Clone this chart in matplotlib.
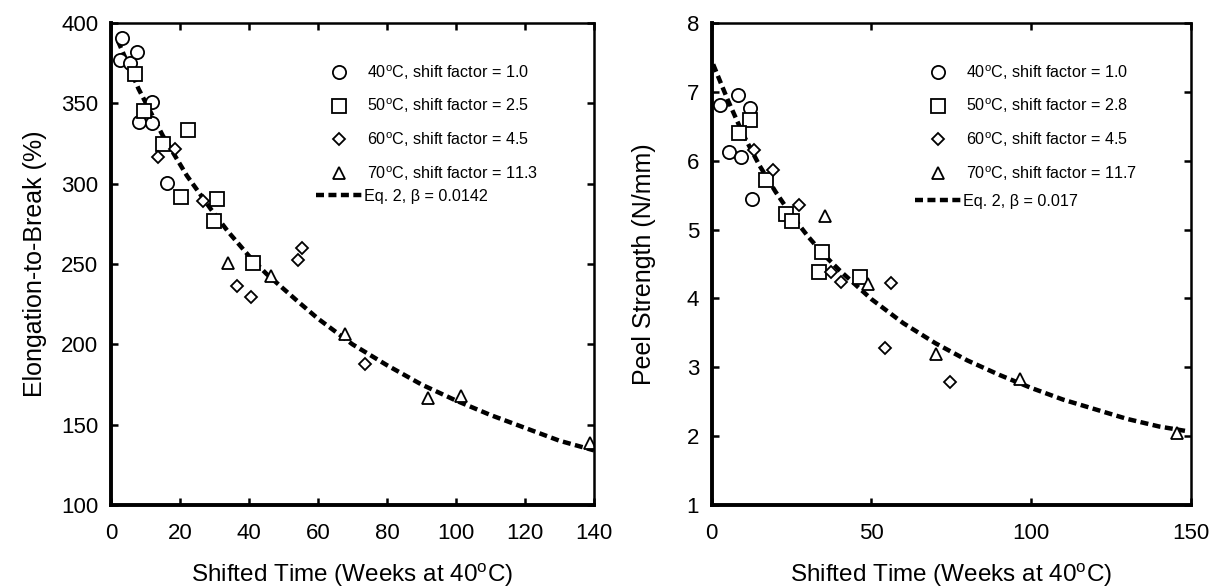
import matplotlib
matplotlib.use("Agg")
import matplotlib.pyplot as plt

plt.rcParams['font.family'] = ['Liberation Sans', 'DejaVu Sans']
plt.rcParams['mathtext.fontset'] = 'custom'
plt.rcParams['mathtext.rm'] = 'Liberation Sans'

# ---------------- Left panel: Elongation-to-Break ----------------
L_40_x = [3.1, 2.6, 5.5, 7.6, 11.8, 8.2, 11.8, 16.1]
L_40_y = [390.5, 377, 375, 382, 351, 338.6, 338, 300.6]
L_50_x = [7.0, 9.7, 22.4, 15.0, 20.3, 30.6, 29.9, 41.1]
L_50_y = [368, 345.4, 333.4, 324.7, 292, 290.3, 277, 250.5]
L_60_x = [13.5, 18.6, 26.8, 55.3, 54.1, 36.6, 40.7, 73.6]
L_60_y = [316.4, 321.6, 289.4, 259.8, 252.5, 236.4, 229.5, 188]
L_70_x = [33.8, 46.3, 67.8, 92.0, 101.4, 138.8]
L_70_y = [250.5, 242.6, 206.5, 166.8, 168, 138.8]
L_fit_x = [2, 8, 15, 22, 29, 34, 40, 45, 54, 60, 70, 80, 90, 100, 110, 120, 130, 140]
L_fit_y = [389, 359, 330, 305, 284, 270, 255, 244, 227, 216, 200, 187, 175, 165, 156, 148, 140, 134]
L_labels = ["40$^\\mathregular{o}$C, shift factor = 1.0",
            "50$^\\mathregular{o}$C, shift factor = 2.5",
            "60$^\\mathregular{o}$C, shift factor = 4.5",
            "70$^\\mathregular{o}$C, shift factor = 11.3",
            "Eq. 2, \u03b2 = 0.0142"]

# ---------------- Right panel: Peel Strength ----------------
R_40_x = [2.5, 8.2, 12.1, 5.6, 9.2, 12.7]
R_40_y = [6.81, 6.95, 6.76, 6.13, 6.06, 5.45]
R_50_x = [11.9, 8.5, 16.9, 23.4, 25.2, 34.7, 33.6, 46.5]
R_50_y = [6.59, 6.40, 5.72, 5.23, 5.13, 4.67, 4.38, 4.31]
R_60_x = [13.2, 19.3, 27.3, 37.3, 40.6, 56.1, 54.3, 74.7]
R_60_y = [6.15, 5.86, 5.35, 4.38, 4.24, 4.22, 3.28, 2.79]
R_70_x = [35.4, 48.8, 70.2, 96.4, 145.5]
R_70_y = [5.19, 4.21, 3.19, 2.83, 2.04]
R_fit_x = [0.5, 5, 10, 15, 20, 25, 30, 35, 40, 50, 60, 70, 80, 90, 100, 110, 120, 130, 140, 149]
R_fit_y = [7.40, 6.89, 6.37, 5.93, 5.55, 5.21, 4.91, 4.64, 4.41, 3.99, 3.64, 3.35, 3.10, 2.89,
           2.70, 2.53, 2.39, 2.25, 2.14, 2.07]
R_labels = ["40$^\\mathregular{o}$C, shift factor = 1.0",
            "50$^\\mathregular{o}$C, shift factor = 2.8",
            "60$^\\mathregular{o}$C, shift factor = 4.5",
            "70$^\\mathregular{o}$C, shift factor = 11.7",
            "Eq. 2, \u03b2 = 0.017"]

markers = ['o', 's', 'D', '^']
msizes = [9.5, 10, 6.5, 9]

fig = plt.figure(figsize=(12.18, 5.87), dpi=100)
axL = fig.add_axes([0.0911, 0.1397, 0.3966, 0.8211])
axR = fig.add_axes([0.5842, 0.1397, 0.3937, 0.8211])

LEG_FS = 11.6


def style(ax):
    for side in ['left', 'bottom']:
        ax.spines[side].set_linewidth(2.8)
    for side in ['top', 'right']:
        ax.spines[side].set_linewidth(1.8)
    ax.tick_params(direction='in', length=5, width=1.8, top=True, right=True,
                   labelsize=16)
    ax.tick_params(axis='x', pad=13)
    ax.tick_params(axis='y', pad=9)


def draw(ax, xs, ys, fx, fy, labels, anchors):
    handles = []
    for (x, y), m, s in zip(zip(xs, ys), markers, msizes):
        h, = ax.plot(x, y, linestyle='none', marker=m, markersize=s,
                     markerfacecolor='white', markeredgecolor='black', markeredgewidth=1.3)
        handles.append(h)
    line, = ax.plot(fx, fy, color='black', linewidth=3.2, dashes=(1.8, 1.0), zorder=1)
    leg1 = ax.legend(handles, labels[:4], loc='upper left', bbox_to_anchor=(anchors[0], anchors[1]),
                     frameon=False, fontsize=LEG_FS, handlelength=2.9, handletextpad=0.3,
                     labelspacing=0.94, borderaxespad=0, borderpad=0)
    ax.add_artist(leg1)
    ax.legend([line], labels[4:], loc='upper left', bbox_to_anchor=(anchors[0], anchors[2]),
              frameon=False, fontsize=LEG_FS, handlelength=2.9, handletextpad=0.1,
              borderaxespad=0, borderpad=0)


draw(axL, [L_40_x, L_50_x, L_60_x, L_70_x], [L_40_y, L_50_y, L_60_y, L_70_y],
     L_fit_x, L_fit_y, L_labels, (0.424, 0.917, 0.656))
axL.set_xlim(0, 140)
axL.set_ylim(100, 400)
axL.set_xticks(range(0, 141, 20))
axL.set_yticks(range(100, 401, 50))
axL.set_xlabel("Shifted Time (Weeks at 40$^\\mathregular{o}$C)", fontsize=17.5, labelpad=12)
axL.set_ylabel("Elongation-to-Break (%)", fontsize=18, labelpad=10)
style(axL)

draw(axR, [R_40_x, R_50_x, R_60_x, R_70_x], [R_40_y, R_50_y, R_60_y, R_70_y],
     R_fit_x, R_fit_y, R_labels, (0.424, 0.917, 0.646))
axR.set_xlim(0, 150)
axR.set_ylim(1, 8)
axR.set_xticks([0, 50, 100, 150])
axR.set_yticks(range(1, 9))
axR.set_xlabel("Shifted Time (Weeks at 40$^\\mathregular{o}$C)", fontsize=17.5, labelpad=12)
axR.set_ylabel("Peel Strength (N/mm)", fontsize=18, labelpad=22)
style(axR)

fig.savefig("out.png", dpi=100)
